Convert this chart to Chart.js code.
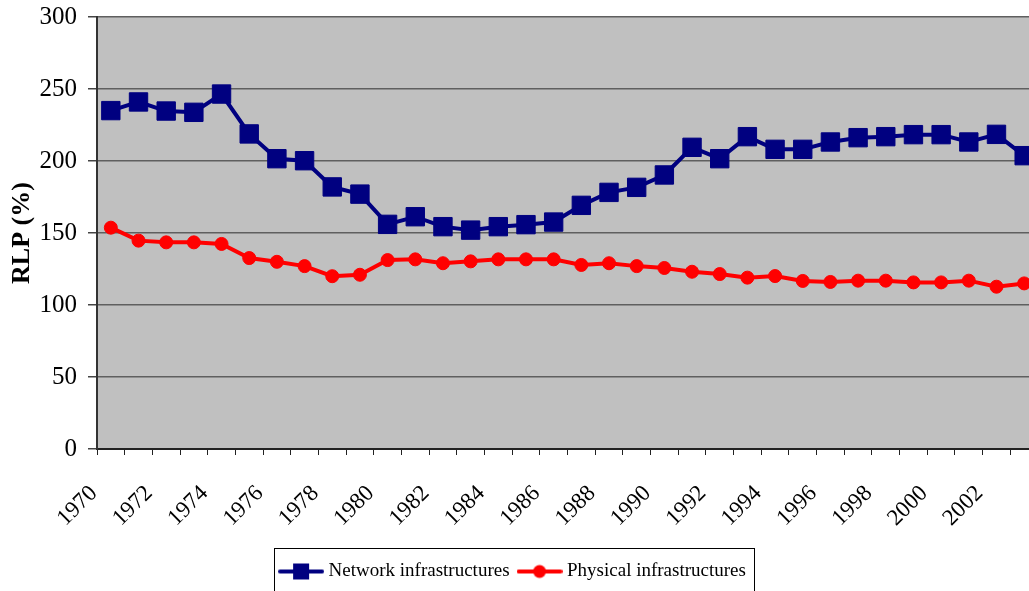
<!DOCTYPE html>
<html>
<head>
<meta charset="utf-8">
<script src="https://cdn.jsdelivr.net/npm/chart.js@4.4.0/dist/chart.umd.min.js"></script>
<style>
  html, body { margin: 0; padding: 0; background: #fff; overflow: hidden; }
  #wrap { width: 1029px; height: 591px; position: relative; }
</style>
</head>
<body>
<div id="wrap"><canvas id="rlpChart"></canvas></div>
<script>
// years on the category axis
let years = [];
for (let y = 1970; y <= 2003; y++) years.push(String(y));

// values
let networkValues = [235, 241, 234.7, 233.8, 246.5, 218.8, 201.6, 200.2, 182, 177,
  156, 161.3, 154.4, 152, 154.4, 155.8, 157.6, 169.2, 178.2, 181.7,
  190.3, 209.5, 201.6, 216.9, 208.1, 208.1, 213.2, 216.2, 216.9, 218.3,
  218.3, 213.2, 218.5, 203.7];
let physicalValues = [153.7, 144.7, 143.5, 143.5, 142.4, 132.6, 130, 127, 120, 121,
  131.2, 131.7, 129, 130.3, 131.7, 131.7, 131.7, 127.8, 129, 127,
  125.7, 123.1, 121.5, 119, 120.1, 116.7, 116, 116.9, 116.9, 115.7,
  115.7, 116.9, 112.7, 115];

let navy = "#000080";
let red = "#ff0000";
let serif = "'Liberation Serif', 'Times New Roman', serif";

Chart.defaults.font.family = serif;
Chart.defaults.color = "#000";

// little line+marker pictures for the legend
function legendMark(color, square) {
  let c = document.createElement("canvas");
  c.width = 46; c.height = 20;
  let g = c.getContext("2d");
  g.strokeStyle = color;
  g.lineWidth = 4;
  g.lineCap = "round";
  g.beginPath();
  g.moveTo(2, 10);
  g.lineTo(44, 10);
  g.stroke();
  g.fillStyle = color;
  if (square) {
    g.fillRect(15, 2, 16, 16);
  } else {
    g.beginPath();
    g.arc(23, 10, 6.5, 0, Math.PI * 2);
    g.fill();
  }
  return c;
}
let legendMarks = [legendMark(navy, true), legendMark(red, false)];

// the original plot runs a little past the right edge of the picture
const plotBox = {
  id: "plotBox",
  afterLayout(chart) {
    const a = chart.chartArea;
    const x = chart.scales.x, y = chart.scales.y;
    const L = 97, T = 17, B = 449, R = chart.width + 9;
    a.left = L; a.right = R; a.top = T; a.bottom = B;
    a.width = R - L; a.height = B - T;
    x.left = L; x.right = R; x.width = R - L;
    x.top = B; x.bottom = B + x.height;
    x.configure();
    y.top = T; y.bottom = B; y.height = B - T;
    y.left = L - y.width + 11; y.right = L; // +11 moves the axis title in
    y.configure();
  }
};

// grey plot area
const plotBg = {
  id: "plotBg",
  beforeDraw(chart) {
    const a = chart.chartArea;
    const ctx = chart.ctx;
    ctx.save();
    ctx.fillStyle = "#c0c0c0";
    ctx.fillRect(a.left, a.top, a.right - a.left, a.bottom - a.top);
    ctx.restore();
  }
};

// frame round the legend
const legendFrame = {
  id: "legendFrame",
  afterDraw(chart) {
    const lg = chart.legend;
    if (!lg || !lg.legendHitBoxes || !lg.legendHitBoxes.length) return;
    let l = Infinity, r = -Infinity, t = Infinity, b = -Infinity;
    lg.legendHitBoxes.forEach(h => {
      l = Math.min(l, h.left);
      r = Math.max(r, h.left + h.width);
      t = Math.min(t, h.top);
      b = Math.max(b, h.top + h.height);
    });
    const ctx = chart.ctx;
    ctx.save();
    ctx.strokeStyle = "#000";
    ctx.lineWidth = 1;
    ctx.strokeRect(Math.round(l - 9) + 0.5, Math.round(t - 14) + 0.5, Math.round(r - l + 17), Math.round(b - t + 25));
    ctx.restore();
  }
};

const ctx = document.getElementById("rlpChart").getContext("2d");
let chart = new Chart(ctx, {
  type: "line",
  data: {
    labels: years,
    datasets: [{
      label: "Network infrastructures",
      data: networkValues,
      borderColor: navy,
      backgroundColor: navy,
      borderWidth: 4,
      pointStyle: "rect",
      pointRadius: 13,
      pointBorderWidth: 1,
      tension: 0
    }, {
      label: "Physical infrastructures",
      data: physicalValues,
      borderColor: red,
      backgroundColor: red,
      borderWidth: 4,
      pointStyle: "circle",
      pointRadius: 6.5,
      pointBorderWidth: 1,
      tension: 0
    }]
  },
  options: {
    responsive: true,
    maintainAspectRatio: false,
    animation: false,
    layout: { padding: { top: 17, right: 0, bottom: 0, left: 0 } },
    plugins: {
      tooltip: { enabled: false },
      legend: {
        position: "bottom",
        labels: {
          font: { size: 19 },
          usePointStyle: true,
          pointStyleWidth: 36,
          padding: 12,
          generateLabels(ch) {
            let items = Chart.defaults.plugins.legend.labels.generateLabels(ch);
            items.forEach((it, i) => {
              it.pointStyle = legendMarks[i];
              it.rotation = 0;
            });
            return items;
          }
        }
      }
    },
    scales: {
      x: {
        offset: true,
        grid: {
          display: true,
          drawOnChartArea: false,
          drawTicks: true,
          tickLength: 6,
          offset: true,
          tickColor: "#222"
        },
        border: { color: "#222", width: 2 },
        ticks: {
          autoSkip: false,
          maxRotation: 45,
          minRotation: 45,
          labelOffset: -17,
          padding: 25,
          font: { size: 23 },
          callback(v, i) {
            return i % 2 === 0 ? years[i] : "";
          }
        }
      },
      y: {
        min: 0,
        max: 300,
        grid: {
          color: "#5f5f5f",
          lineWidth: 1.5,
          tickLength: 9,
          tickColor: "#444"
        },
        border: { color: "#333", width: 2 },
        ticks: {
          stepSize: 50,
          padding: 11,
          font: { size: 25 }
        },
        title: {
          display: true,
          text: "RLP (%)",
          font: { size: 26, weight: "bold" },
          padding: { top: 8, bottom: 2 }
        }
      }
    }
  },
  plugins: [plotBox, plotBg, legendFrame]
});
</script>
</body>
</html>
